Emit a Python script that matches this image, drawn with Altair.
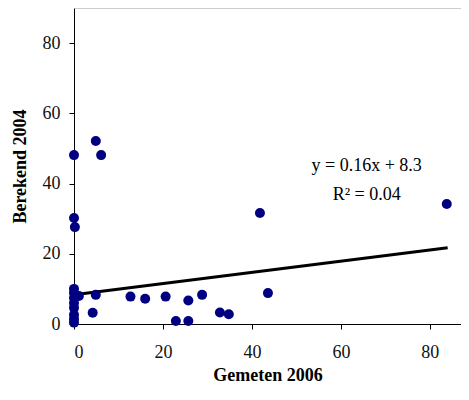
import altair as alt
import pandas as pd

gemeten = [0, 0, 0, 0, 0, 0, 0, 0, 0, 0, 0.2, 1.1, 4.9, 4.2, 4.9, 6.1, 12.7, 16.0, 20.6,
           22.9, 25.7, 25.7, 28.8, 32.8, 34.8, 41.8, 43.6, 83.8]
berekend = [48.1, 30.2, 10.0, 8.8, 7.4, 6.0, 4.6, 2.6, 1.4, 0.4, 27.6, 8.0, 8.3, 3.2, 52.1,
            48.1, 7.8, 7.2, 7.8, 0.85, 6.7, 0.85, 8.3, 3.3, 2.8, 31.6, 8.8, 34.2]

trend_x = [0, 84]
trend_y = [8.3, 21.7]

labels = ["y = 0.16x + 8.3", "R\u00b2 = 0.04"]
label_x = [65.8, 65.8]
label_y = [44.9, 36.8]

pts = pd.DataFrame({"x": gemeten, "y": berekend})
trend = pd.DataFrame({"x": trend_x, "y": trend_y})
txt = pd.DataFrame({"x": label_x, "y": label_y, "t": labels})

FONT = "Liberation Serif"
W, H = 387, 316

xs = alt.Scale(domain=[0, 87.0], nice=False, zero=False)
ys = alt.Scale(domain=[0, 90], nice=False, zero=False)

xax = alt.Axis(values=[0, 20, 40, 60, 80], title="Gemeten 2006", grid=False,
               tickSize=5, labelPadding=14, titlePadding=5, format="d")
yax = alt.Axis(values=[0, 20, 40, 60, 80], title="Berekend 2004", grid=False,
               tickSize=5, labelPadding=9, titlePadding=13, format="d")

points = alt.Chart(pts).mark_circle(size=100, color="#000080", opacity=1).encode(
    x=alt.X("x:Q", scale=xs, axis=xax),
    y=alt.Y("y:Q", scale=ys, axis=yax),
)

line = alt.Chart(trend).mark_line(color="black", strokeWidth=3).encode(
    x=alt.X("x:Q", scale=xs),
    y=alt.Y("y:Q", scale=ys),
)

text = alt.Chart(txt).mark_text(font=FONT, fontSize=18, color="black",
                                align="center", baseline="middle").encode(
    x=alt.X("x:Q", scale=xs),
    y=alt.Y("y:Q", scale=ys),
    text="t:N",
)

top = alt.Chart(pd.DataFrame({"a": [0]})).mark_rule(color="#999999", strokeWidth=1).encode(
    x=alt.value(0), x2=alt.value(W), y=alt.value(0)
)

chart = alt.layer(top, line, points, text).properties(
    width=W, height=H,
    autosize=alt.AutoSizeParams(type="none"),
    padding={"left": 66, "top": 0, "right": 0, "bottom": 63},
).configure_view(stroke=None).configure_axis(
    domainColor="black", domainWidth=1, tickColor="black",
    labelFont=FONT, labelFontSize=18, labelColor="#111111",
    titleFont=FONT, titleFontSize=18, titleFontWeight="bold", titleColor="black",
)

chart.save("out.html", embed_options={"renderer": "svg", "actions": False})
